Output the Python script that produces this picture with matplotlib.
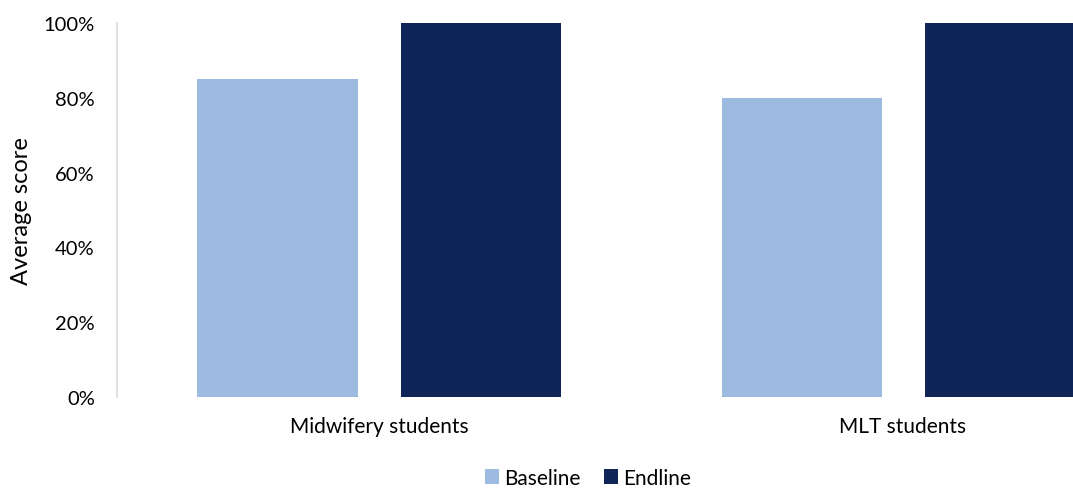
import matplotlib
matplotlib.use("Agg")
import matplotlib.pyplot as plt
import numpy as np
from matplotlib.ticker import PercentFormatter

categories = ["Midwifery students", "MLT students"]
baseline = [85, 80]
endline = [100, 100]
series_names = ["Baseline", "Endline"]
colors = ["#9DBBE1", "#0F2557"]

plt.rcParams['font.family'] = ['Lato', 'DejaVu Sans']

fig = plt.figure(figsize=(10.73, 4.89), dpi=100)
ax = fig.add_axes([117/1073, 91/489, 1048/1073, 374/489])

x = np.arange(len(categories))
w = 160/524
off = 101.5/524
ax.bar(x - off, baseline, w, color=colors[0], label=series_names[0])
ax.bar(x + off, endline, w, color=colors[1], label=series_names[1])

ax.set_xlim(-0.5, 1.5)
ax.set_ylim(0, 100)
ax.set_yticks(np.arange(0, 101, 20))
ax.yaxis.set_major_formatter(PercentFormatter(decimals=0))
ax.set_xticks(x)
ax.set_xticklabels(categories)
ax.tick_params(axis='y', length=0, labelsize=14.5, colors='black', pad=16)
ax.tick_params(axis='x', length=0, labelsize=15, colors='black', pad=14)
for s in ['top', 'right', 'bottom']:
    ax.spines[s].set_visible(False)
ax.spines['left'].set_color('#D9D9D9')
ax.spines['left'].set_linewidth(1.2)
ax.set_ylabel("Average score", fontsize=17, labelpad=8)

fig.legend(loc='center', bbox_to_anchor=(588/1073, 1 - 479/489), ncol=2, frameon=False,
           fontsize=15, handlelength=0.7, handleheight=0.7, handletextpad=0.25, columnspacing=1.1)

fig.savefig("out.png", dpi=100)
